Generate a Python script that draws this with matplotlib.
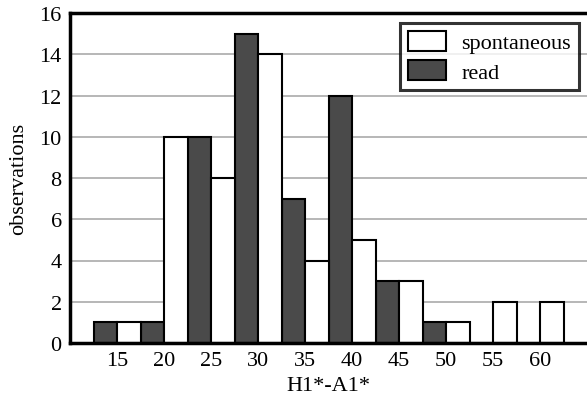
import matplotlib
matplotlib.use("Agg")
import matplotlib.pyplot as plt
import numpy as np

categories = ["15", "20", "25", "30", "35", "40", "45", "50", "55", "60"]
read = [1, 1, 10, 15, 7, 12, 3, 1, 0, 0]
spontaneous = [1, 10, 8, 14, 4, 5, 3, 1, 2, 2]

plt.rcParams['font.family'] = 'serif'
plt.rcParams['font.serif'] = ['Liberation Serif', 'DejaVu Serif']

W, H = 587, 402
fig = plt.figure(figsize=(W / 100, H / 100), dpi=100)
ax = fig.add_axes([70 / W, (H - 344) / H, (587 - 70) / W, (344 - 14) / H])

x = np.arange(len(categories))
bw = 0.5
dark = "#4a4a4a"
ax.bar(x - bw / 2, read, width=bw, color=dark, edgecolor="black", linewidth=1.5,
       label="read", zorder=3)
ax.bar(x + bw / 2, spontaneous, width=bw, color="white", edgecolor="black", linewidth=1.5,
       label="spontaneous", zorder=3)

ax.set_xlim(-1, 10)
ax.set_ylim(0, 16)
ax.set_yticks(range(0, 17, 2))
ax.set_xticks(x)
ax.set_xticklabels(categories)
ax.tick_params(length=0, labelsize=16, pad=6)
ax.tick_params(axis='y', pad=6)
ax.grid(axis='y', color="#aaaaaa", linewidth=1.2, zorder=0)
ax.set_axisbelow(True)
for s in ["left", "bottom", "top"]:
    ax.spines[s].set_linewidth(2.5)
    ax.spines[s].set_color("black")
    ax.spines[s].set_zorder(4)
ax.spines["right"].set_visible(False)

ax.set_ylabel("observations", fontsize=16, labelpad=8)
ax.set_xlabel("H1*-A1*", fontsize=16, labelpad=4)

handles, labels = ax.get_legend_handles_labels()
leg = ax.legend([handles[1], handles[0]], [labels[1], labels[0]],
                loc="upper right", bbox_to_anchor=((579 - 70) / 517, 1 - 10 / 330),
                fontsize=16, frameon=True, fancybox=False, edgecolor="black",
                borderpad=0.35, handlelength=1.7, handleheight=1.0, handletextpad=0.7,
                labelspacing=0.3, borderaxespad=0)
leg.get_frame().set_linewidth(2.2)
leg.set_zorder(5)

fig.savefig("out.png", dpi=100)
